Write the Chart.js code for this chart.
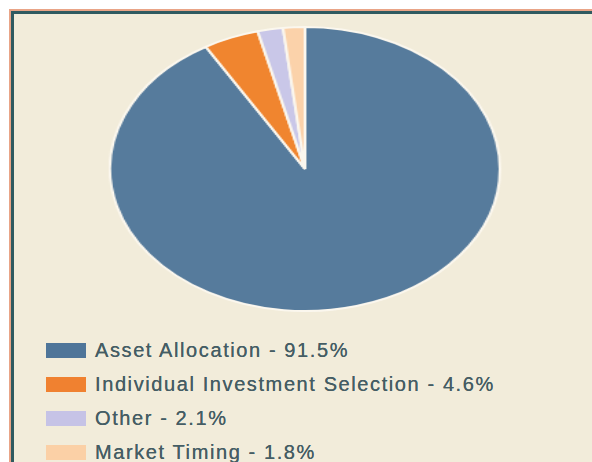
<!DOCTYPE html>
<html>
<head>
<meta charset="utf-8">
<script src="https://cdn.jsdelivr.net/npm/chart.js@4.4.1/dist/chart.umd.min.js"></script>
<style>
  html, body { margin: 0; padding: 0; background: #ffffff; width: 592px; height: 462px; overflow: hidden; }
  #frame {
    position: absolute; left: 9px; top: 9px; width: 600px; height: 470px;
    border-top: 2px solid #e9a487; border-left: 2px solid #e9a487;
    box-sizing: border-box;
  }
  #inner {
    position: absolute; left: 0; top: 0; right: 0; bottom: 0;
    border-top: 3px solid #2f5a60; border-left: 3px solid #2f5a60;
    background: #f2ecda;
  }
  #pieWrap {
    position: absolute; left: 162px; top: 26px; width: 286px; height: 286px;
    transform: scaleX(1.373); transform-origin: 50% 50%;
  }
  #legend {
    position: absolute; left: 46px; top: 335px;
    font-family: "Liberation Sans", Arial, sans-serif; font-size: 20px; color: #455d64;
    letter-spacing: 1.6px;
    text-shadow: 0 0 0.6px #455d64;
  }
  .row { position: relative; height: 34px; line-height: 30px; white-space: nowrap; }
  .box { position: absolute; left: 0; top: 8px; width: 40px; height: 15px; }
  .lbl { position: absolute; left: 49px; top: 0; }
</style>
</head>
<body>
<div id="frame"><div id="inner"></div></div>
<div id="pieWrap"><canvas id="c"></canvas></div>
<div id="legend"></div>
<script>
const categories = ["Asset Allocation", "Individual Investment Selection", "Other", "Market Timing"];
const shares = [91.5, 4.6, 2.1, 1.8];
const legendLabels = ["Asset Allocation - 91.5%", "Individual Investment Selection - 4.6%", "Other - 2.1%", "Market Timing - 1.8%"];
const sliceColors = ["#567b9c", "#f0852f", "#c9c7e8", "#fbd2aa"];
const legendColors = ["#4f7599", "#f08130", "#c6c3e6", "#fbd0a6"];

const chart = new Chart(document.getElementById('c'), {
  type: 'pie',
  data: {
    labels: categories,
    datasets: [{
      data: shares,
      backgroundColor: sliceColors,
      borderColor: '#fbf7ee',
      borderWidth: 2,
      hoverOffset: 0,
      offset: 0
    }]
  },
  options: {
    responsive: true,
    maintainAspectRatio: false,
    animation: false,
    layout: { padding: 0 },
    plugins: { legend: { display: false }, tooltip: { enabled: false }, title: { display: false } }
  }
});

const legend = document.getElementById('legend');
legendLabels.forEach((t, i) => {
  const row = document.createElement('div');
  row.className = 'row';
  const b = document.createElement('div');
  b.className = 'box';
  b.style.background = legendColors[i];
  const l = document.createElement('div');
  l.className = 'lbl';
  l.textContent = t;
  row.appendChild(b); row.appendChild(l);
  legend.appendChild(row);
});
</script>
</body>
</html>
